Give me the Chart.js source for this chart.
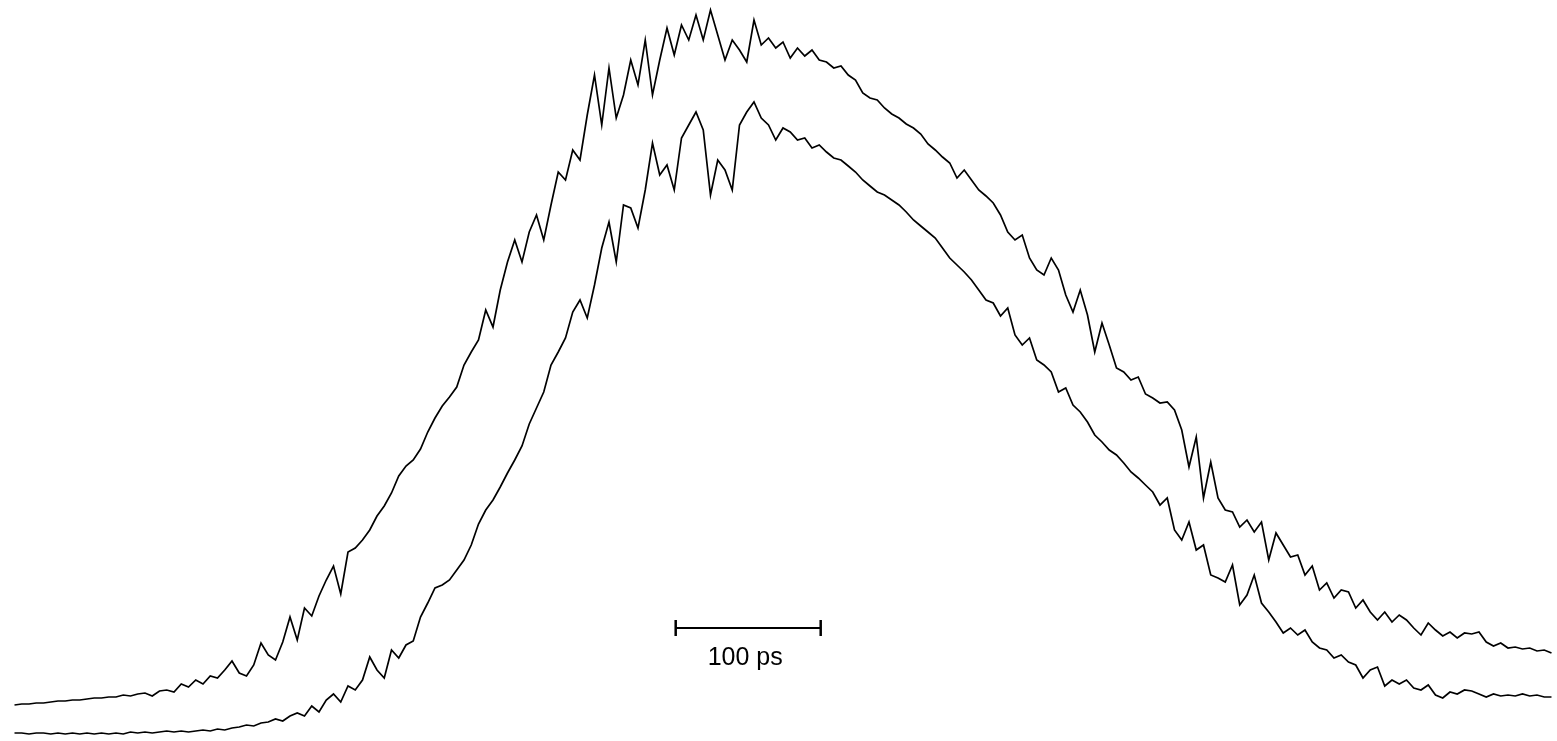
<!DOCTYPE html>
<html>
<head>
<meta charset="utf-8">
<title>Pulse profiles</title>
<script src="https://cdn.jsdelivr.net/npm/chart.js@4/dist/chart.umd.min.js"></script>
<style>
  html, body { margin: 0; padding: 0; background: #fff; }
  #chart { display: block; }
</style>
</head>
<body>
<canvas id="chart" width="1557" height="741"></canvas>
<script>
// time axis in ps, 5 ps steps
const times = [];
for (let t = 10; t <= 1070; t += 5) times.push(t);

// upper trace (arb. units)
const upperTrace = [
  36,37,37,38,38,39,40,40,41,41,
  42,43,43,44,44,46,45,47,48,45,
  50,51,49,57,54,61,57,65,63,71,
  80,68,65,76,98,86,81,99,124,101,
  133,125,145,161,175,147,189,193,201,211,
  225,235,248,265,275,281,292,309,323,335,
  344,354,376,389,401,431,414,451,479,501,
  479,509,526,501,536,569,561,591,581,626,
  666,616,673,623,646,681,656,701,646,681,
  713,686,716,701,726,701,731,706,681,701,
  691,679,721,696,703,693,699,683,693,685,
  691,681,679,673,675,666,661,648,643,641,
  633,627,623,617,613,607,597,591,584,578,
  563,571,561,551,545,538,526,509,501,506,
  483,471,466,483,471,446,429,451,426,389,
  418,396,373,369,361,364,347,343,338,339,
  331,311,274,304,243,279,243,231,229,214,
  221,209,219,181,208,196,184,186,166,175,
  151,158,143,151,149,133,141,129,121,129,
  119,126,121,113,106,118,111,105,109,103,
  108,107,109,99,95,98,93,94,92,93,
  90,91,88
];

// lower trace (arb. units)
const lowerTrace = [
  8,8,7,8,8,7,8,7,8,7,
  8,7,8,7,8,7,9,8,9,8,
  9,10,9,10,9,10,11,10,12,11,
  13,14,16,15,18,19,22,20,25,28,
  25,35,29,41,47,39,55,51,61,84,
  71,63,91,83,96,100,124,138,153,156,
  161,171,181,196,217,231,241,254,268,281,
  295,317,333,349,376,389,403,429,441,423,
  456,493,519,479,536,533,513,551,598,566,
  576,551,603,616,629,611,546,581,571,551,
  616,629,639,623,616,601,613,609,601,603,
  593,596,589,583,581,575,569,561,555,549,
  546,541,536,529,521,515,509,503,493,483,
  476,469,461,451,441,438,425,433,406,396,
  403,381,376,369,349,353,336,329,319,306,
  299,291,286,278,269,263,256,249,236,243,
  211,201,219,191,196,166,163,159,176,136,
  146,166,138,129,119,108,113,106,111,99,
  93,91,83,86,79,76,63,71,74,55,
  61,57,61,53,51,56,46,43,49,47,
  51,50,47,44,47,45,46,45,47,45,
  46,44,44
];

// scale bar
const scaleBarStart = 466;   // ps
const scaleBarLength = 100;  // ps
const scaleBarLevel = 113;   // arb. units
const scaleBarLabel = '100 ps';

const toPoints = (xs, ys) => xs.map((x, i) => ({ x: x, y: ys[i] }));

const scaleBarText = {
  id: 'scaleBarText',
  afterDatasetsDraw(chart) {
    const ctx = chart.ctx;
    const xs = chart.scales.x, ys = chart.scales.y;
    const cx = xs.getPixelForValue(scaleBarStart + scaleBarLength / 2);
    const cy = ys.getPixelForValue(scaleBarLevel);
    ctx.save();
    ctx.fillStyle = '#000';
    ctx.font = '25px "Liberation Sans", Arial, sans-serif';
    ctx.textAlign = 'center';
    ctx.textBaseline = 'alphabetic';
    ctx.fillText(scaleBarLabel, cx - 3, cy + 37);
    ctx.restore();
  }
};

new Chart(document.getElementById('chart'), {
  type: 'line',
  data: {
    datasets: [
      {
        label: 'upper',
        data: toPoints(times, upperTrace),
        borderColor: '#000',
        borderWidth: 1.7,
        pointRadius: 0,
        tension: 0
      },
      {
        label: 'lower',
        data: toPoints(times, lowerTrace),
        borderColor: '#000',
        borderWidth: 1.7,
        pointRadius: 0,
        tension: 0
      },
      {
        label: 'scale',
        data: toPoints([scaleBarStart, scaleBarStart + scaleBarLength], [scaleBarLevel, scaleBarLevel]),
        borderColor: '#000',
        borderWidth: 2,
        pointStyle: 'line',
        rotation: 90,
        pointRadius: 8,
        pointBorderWidth: 2.5,
        pointBorderColor: '#000',
        tension: 0
      }
    ]
  },
  options: {
    responsive: false,
    animation: false,
    events: [],
    layout: { padding: 0, autoPadding: false },
    plugins: { legend: { display: false }, tooltip: { enabled: false } },
    scales: {
      x: { type: 'linear', min: 0, max: 1073.8, display: false },
      y: { type: 'linear', min: 0, max: 741, display: false }
    }
  },
  plugins: [scaleBarText]
});
</script>
</body>
</html>
